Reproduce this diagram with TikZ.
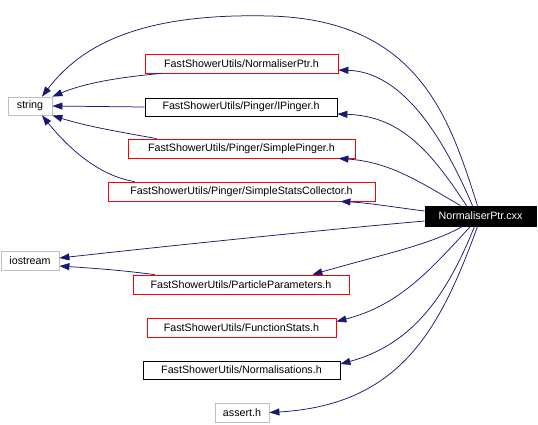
\documentclass[tikz,border=0pt]{standalone}
\usepackage{fontspec}
\setmainfont{Liberation Sans}
\usetikzlibrary{arrows.meta,calc}
\definecolor{edgeblue}{HTML}{191970}
\definecolor{boxgray}{HTML}{BFBFBF}
\begin{document}
\begin{tikzpicture}[x=1pt,y=-1pt,
  box/.style={draw,rectangle,inner sep=0pt,line width=0.8pt,font=\fontsize{10.7}{12}\selectfont},
  redbox/.style={box,draw=red},
  blackbox/.style={box,draw=black},
  graybox/.style={box,draw=boxgray},
  mainbox/.style={box,draw=black,fill=black,text=white},
  dep/.style={draw=edgeblue,line width=0.75pt,-{Triangle[length=10pt,width=7pt]},fill=none},
]
\useasboundingbox (0,0) rectangle (538,424);
\node[graybox,minimum width=44pt,minimum height=18pt] (string) at (30,106) {string};
\node[redbox,minimum width=193pt,minimum height=19pt] (nptr) at (241.5,63.5) {FastShowerUtils/NormaliserPtr.h};
\node[blackbox,minimum width=192pt,minimum height=18pt] (ipinger) at (241,107) {FastShowerUtils/Pinger/IPinger.h};
\node[redbox,minimum width=227pt,minimum height=19pt] (spinger) at (241.5,148.5) {FastShowerUtils/Pinger/SimplePinger.h};
\node[redbox,minimum width=267pt,minimum height=19pt] (ssc) at (241.5,191.5) {FastShowerUtils/Pinger/SimpleStatsCollector.h};
\node[mainbox,minimum width=111pt,minimum height=20pt] (cxx) at (480.5,216) {NormaliserPtr.cxx};
\node[graybox,minimum width=58pt,minimum height=19pt] (iostream) at (30,260.5) {iostream};
\node[redbox,minimum width=216pt,minimum height=19pt] (pp) at (241,284.5) {FastShowerUtils/ParticleParameters.h};
\node[redbox,minimum width=189pt,minimum height=19pt] (fs) at (241.5,327.5) {FastShowerUtils/FunctionStats.h};
\node[blackbox,minimum width=197pt,minimum height=18pt] (norm) at (241.5,370) {FastShowerUtils/Normalisations.h};
\node[graybox,minimum width=54pt,minimum height=19pt] (assert) at (242,412.5) {assert.h};

% edges to string
\draw[dep] ($(cxx.north)+(-3,0)$) .. controls (450,120) and (420,20) .. (270,16)
  .. controls (150,13) and (85,40) .. ($(string.north)+(12,0)$);
\draw[dep] ($(nptr.south west)+(17,0)$) .. controls (110,78) and (80,85) .. (string.north east);
\draw[dep] (ipinger.west) -- (string.east);
\draw[dep] ($(spinger.north west)+(29,0)$) .. controls (120,132) and (85,126) .. (string.south east);
\draw[dep] ($(ssc.north west)+(27,0)$) .. controls (100,176) and (70,150) .. ($(string.south)+(12,0)$);

% edges from cxx to headers
\draw[dep] ($(cxx.north)+(-8,0)$) .. controls (440,130) and (400,72) .. ($(nptr.east)+(0,6.5)$);
\draw[dep] ($(cxx.north)+(-14,0)$) .. controls (430,150) and (400,116) .. ($(ipinger.east)+(0,7)$);
\draw[dep] ($(cxx.north)+(-20,0)$) .. controls (420,182) and (390,162) .. ($(spinger.south east)+(-17,0)$);
\draw[dep] ($(cxx.west)+(0,-5)$) .. controls (400,208) and (370,203) .. ($(ssc.south east)+(-35,0)$);
\draw[dep] ($(cxx.west)+(0,5)$) .. controls (300,232) and (150,248) .. ($(iostream.east)+(0,-2.5)$);
\draw[dep] ($(pp.north west)+(22,0)$) .. controls (120,270) and (90,268) .. ($(iostream.east)+(0,5.5)$);
\draw[dep] ($(cxx.south)+(-18,0)$) .. controls (430,245) and (380,255) .. ($(pp.north east)+(-37,0)$);
\draw[dep] ($(cxx.south)+(-10,0)$) .. controls (430,270) and (400,305) .. ($(fs.east)+(0,-6)$);
\draw[dep] ($(cxx.south)+(-6,0)$) .. controls (445,300) and (410,345) .. ($(norm.east)+(0,-6)$);
\draw[dep] ($(cxx.south)+(-3,0)$) .. controls (440,330) and (400,405) .. (assert.east);
\end{tikzpicture}
\end{document}
